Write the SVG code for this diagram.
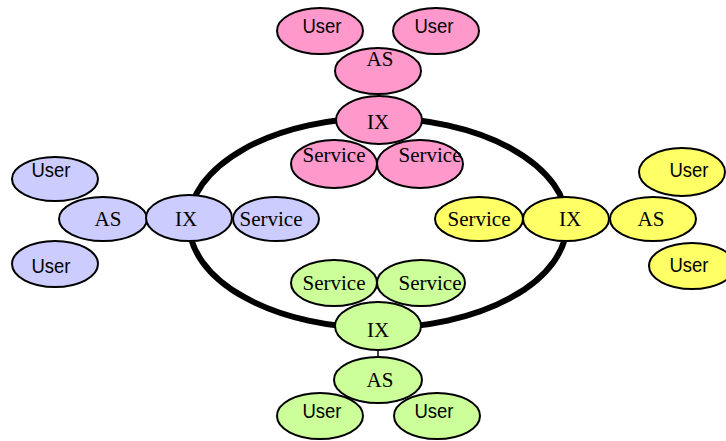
<svg xmlns="http://www.w3.org/2000/svg" width="726" height="441" viewBox="0 0 726 441">
<style>
.n{stroke:#000;stroke-width:2}
.p{fill:#FF99CC}.b{fill:#CCCCFF}.y{fill:#FFFF66}.g{fill:#CCFF99}
.s{font-family:"Liberation Sans",Arial,sans-serif;font-size:20px;fill:#000;text-anchor:middle}
.t{font-family:"Liberation Serif","Times New Roman",serif;font-size:21px;fill:#000;text-anchor:middle}
</style>
<rect width="726" height="441" fill="#fff"/>
<ellipse id="ring" cx="378" cy="223" rx="189" ry="105" fill="none" stroke="#000" stroke-width="6"/>
<g id="connectors">
<line x1="378" y1="349" x2="378" y2="358" stroke="#000" stroke-width="1.5"/>
</g>
<!-- top pink -->
<g id="pink-user1"><ellipse class="n p" cx="320" cy="31" rx="43" ry="23"/><text class="s" x="322" y="33" textLength="39" lengthAdjust="spacingAndGlyphs">User</text></g>
<g id="pink-user2"><ellipse class="n p" cx="436" cy="31" rx="43" ry="23"/><text class="s" x="434" y="33" textLength="39" lengthAdjust="spacingAndGlyphs">User</text></g>
<g id="pink-as"><ellipse class="n p" cx="378" cy="71" rx="43" ry="23"/><text class="t" x="380" y="66">AS</text></g>
<g id="pink-ix"><ellipse class="n p" cx="379" cy="120" rx="43" ry="24"/><text class="t" x="378" y="129">IX</text></g>
<g id="pink-svc1"><ellipse class="n p" cx="334" cy="164" rx="43" ry="24"/><text class="t" x="334" y="162">Service</text></g>
<g id="pink-svc2"><ellipse class="n p" cx="420" cy="164" rx="43" ry="24"/><text class="t" x="430" y="162">Service</text></g>
<!-- left blue -->
<g id="blue-user1"><ellipse class="n b" cx="55" cy="179" rx="43" ry="22"/><text class="s" x="51" y="177" textLength="39" lengthAdjust="spacingAndGlyphs">User</text></g>
<g id="blue-user2"><ellipse class="n b" cx="55" cy="264" rx="43" ry="23"/><text class="s" x="51" y="273" textLength="39" lengthAdjust="spacingAndGlyphs">User</text></g>
<g id="blue-as"><ellipse class="n b" cx="103" cy="219" rx="44" ry="22"/><text class="t" x="108" y="226">AS</text></g>
<g id="blue-ix"><ellipse class="n b" cx="189" cy="218" rx="43" ry="23"/><text class="t" x="186" y="226">IX</text></g>
<g id="blue-svc"><ellipse class="n b" cx="276" cy="219" rx="43" ry="22"/><text class="t" x="271" y="226">Service</text></g>
<!-- right yellow -->
<g id="yellow-user1"><ellipse class="n y" cx="682" cy="172" rx="43" ry="24"/><text class="s" x="689" y="177" textLength="39" lengthAdjust="spacingAndGlyphs">User</text></g>
<g id="yellow-user2"><ellipse class="n y" cx="692" cy="266" rx="43" ry="23"/><text class="s" x="689" y="272" textLength="39" lengthAdjust="spacingAndGlyphs">User</text></g>
<g id="yellow-svc"><ellipse class="n y" cx="479" cy="219" rx="44" ry="22"/><text class="t" x="479" y="226">Service</text></g>
<g id="yellow-ix"><ellipse class="n y" cx="566" cy="219" rx="43" ry="22"/><text class="t" x="570" y="226">IX</text></g>
<g id="yellow-as"><ellipse class="n y" cx="653" cy="219" rx="43" ry="22"/><text class="t" x="651" y="226">AS</text></g>
<!-- bottom green -->
<g id="green-svc1"><ellipse class="n g" cx="334" cy="283" rx="43" ry="23"/><text class="t" x="334" y="290">Service</text></g>
<g id="green-svc2"><ellipse class="n g" cx="421" cy="283" rx="44" ry="23"/><text class="t" x="430" y="290">Service</text></g>
<g id="green-ix"><ellipse class="n g" cx="378" cy="326" rx="43" ry="24"/><text class="t" x="378" y="337">IX</text></g>
<g id="green-user1"><ellipse class="n g" cx="320" cy="416" rx="43" ry="23"/><text class="s" x="322" y="418" textLength="39" lengthAdjust="spacingAndGlyphs">User</text></g>
<g id="green-user2"><ellipse class="n g" cx="437" cy="416" rx="43" ry="23"/><text class="s" x="434" y="418" textLength="39" lengthAdjust="spacingAndGlyphs">User</text></g>
<g id="green-as"><ellipse class="n g" cx="378" cy="380" rx="44" ry="23"/><text class="t" x="380" y="387">AS</text></g>
</svg>
